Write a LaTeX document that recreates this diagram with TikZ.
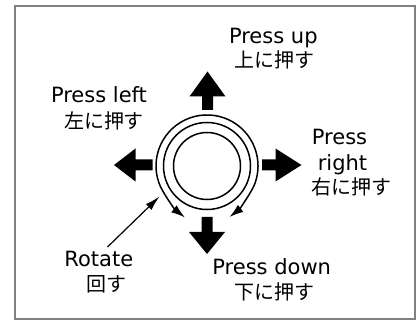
\documentclass[tikz,border=0pt]{standalone}
\usepackage{fontspec}
\setmainfont{DejaVu Sans}
\newfontfamily\jpfont{Noto Sans CJK JP}
\usetikzlibrary{arrows.meta}
\definecolor{framegray}{RGB}{128,128,128}
\begin{document}
\begin{tikzpicture}[x=1pt,y=1pt,yscale=-1,
  ring/.style={line width=1.5pt,black},
  blockarrow/.style={fill=black,draw=none},
  en/.style={font=\fontsize{21}{25}\selectfont, anchor=base, inner sep=0pt},
  jp/.style={font=\jpfont\fontsize{20}{24}\selectfont, anchor=base, inner sep=0pt},
  rottip/.style={{Latex[length=14pt,width=9pt]}-{Latex[length=14pt,width=9pt]}},
  pointer/.style={line width=1.2pt,-{Latex[length=15pt,width=8pt]}}]
\useasboundingbox (0,0) rectangle (416,321);
\draw[framegray,line width=2pt] (14.5,6) rectangle (415,319);
% rings
\coordinate (c) at (207,166);
\draw[ring] (c) circle[radius=33.5];
\draw[ring] (c) circle[radius=43.5];
\coordinate (lt) at (185,217.5);
\coordinate (rt) at (229.5,217);
\draw[ring,rottip] (lt) .. controls (175.3,209.9) and (162.5,192.8) .. (159.1,183.4)
  arc[start angle=160,end angle=380,radius=51]
  .. controls (251.5,192.8) and (238.7,209.9) .. (rt);
% block arrows
\fill[blockarrow] (207.5,71.5) -- (225.5,96.5) -- (213,96.5) -- (213,110) -- (202,110) -- (202,96.5) -- (189.5,96.5) -- cycle;
\fill[blockarrow] (207,254) -- (225,232) -- (212.5,232) -- (212.5,217) -- (201.5,217) -- (201.5,232) -- (189,232) -- cycle;
\fill[blockarrow] (114,165) -- (135.5,148.5) -- (135.5,159.5) -- (152.5,159.5) -- (152.5,170.5) -- (135.5,170.5) -- (135.5,181.5) -- cycle;
\fill[blockarrow] (301.5,165) -- (275.5,148.5) -- (275.5,159.5) -- (262,159.5) -- (262,170.5) -- (275.5,170.5) -- (275.5,181.5) -- cycle;
% labels
\node[en] (up1) at (273.3,43.5) {Press up};
\node[jp] (up2) at (274.7,67.5) {上に押す};
\node[en] (lf1) at (99,103) {Press left};
\node[jp] (lf2) at (104,128.5) {左に押す};
\node[en] (rg1) at (339.5,145) {Press};
\node[en] (rg2) at (342.5,170.5) {right};
\node[jp] (rg3) at (351.7,195) {右に押す};
\node[en] (ro1) at (98.8,266.5) {Rotate};
\node[jp] (ro2) at (106.7,291.5) {回す};
\node[en] (dn1) at (271.7,275) {Press down};
\node[jp] (dn2) at (274,300) {下に押す};
% rotate pointer
\coordinate (rotfrom) at (107.5,247);
\coordinate (rotto) at (159.5,196.5);
\draw[pointer] (rotfrom) -- (rotto);
\end{tikzpicture}
\end{document}
